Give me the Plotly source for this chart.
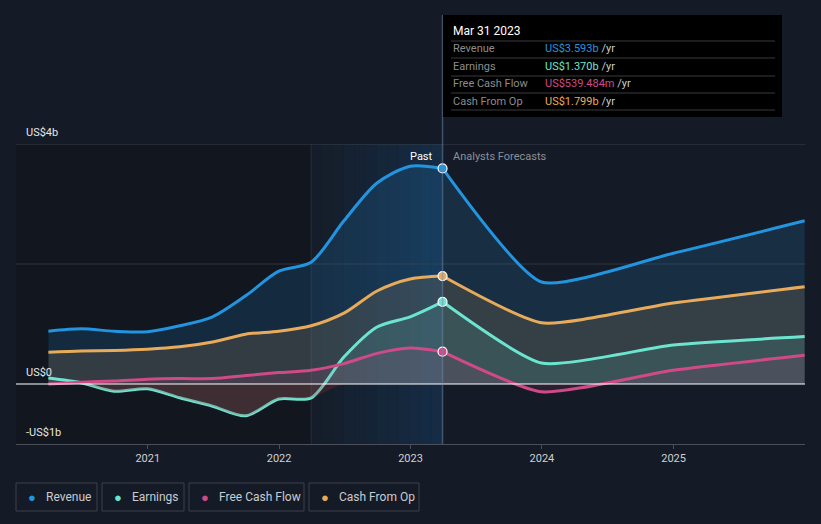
import plotly.graph_objects as go
import numpy as np
import pandas as pd

# ---------------- data ----------------
past_dates = ["2020-03-31", "2020-06-30", "2020-09-30", "2020-12-31",
              "2021-03-31", "2021-06-30", "2021-09-30", "2021-12-31",
              "2022-03-31", "2022-06-30", "2022-09-30", "2022-12-31",
              "2023-03-31"]
fc_dates = ["2023-03-31", "2023-12-31", "2024-12-31", "2025-12-31"]

revenue_past = [0.88, 0.92, 0.88, 0.87, 0.97, 1.12, 1.47, 1.88, 2.03, 2.72, 3.35, 3.63, 3.593]
earnings_past = [0.10, 0.02, -0.12, -0.08, -0.23, -0.37, -0.53, -0.25, -0.23, 0.45, 0.95, 1.12, 1.370]
fcf_past = [0.00, 0.03, 0.05, 0.08, 0.09, 0.09, 0.14, 0.19, 0.23, 0.34, 0.51, 0.60, 0.539]
cfo_past = [0.53, 0.55, 0.56, 0.58, 0.62, 0.70, 0.83, 0.88, 0.97, 1.18, 1.55, 1.75, 1.799]

revenue_fc = [3.593, 1.70, 2.18, 2.72]
earnings_fc = [1.370, 0.35, 0.65, 0.79]
fcf_fc = [0.539, -0.13, 0.23, 0.48]
cfo_fc = [1.799, 1.02, 1.35, 1.62]

series_names = ["Revenue", "Earnings", "Free Cash Flow", "Cash From Op"]
tooltip_values = ["US$3.593b", "US$1.370b", "US$539.484m", "US$1.799b"]
tick_years = ["2021", "2022", "2023", "2024", "2025"]
y_labels = ["US$4b", "US$0", "-US$1b"]
y_label_vals = [4, 0, -1]

# ---------------- style ----------------
colors = {"Revenue": "#2394df", "Earnings": "#6ce5d0",
          "Free Cash Flow": "#d04a88", "Cash From Op": "#e8ab5c"}
fills = {"Revenue": "rgba(35,148,223,0.16)", "Earnings": "rgba(108,229,208,0.12)",
         "Free Cash Flow": "rgba(208,74,136,0.12)", "Cash From Op": "rgba(232,171,92,0.14)"}
BG = "#151b26"
FONT = "Roboto, 'Open Sans', sans-serif"

W, H = 821, 524
L, R, T, B = 16, 16, 144, 80
PW = W - L - R
PH = H - T - B


def px(x):
    return (x - L) / PW


def py(y):
    return (H - B - y) / PH


fig = go.Figure()

data = {
    "Revenue": (revenue_past, revenue_fc),
    "Cash From Op": (cfo_past, cfo_fc),
    "Earnings": (earnings_past, earnings_fc),
    "Free Cash Flow": (fcf_past, fcf_fc),
}

for name in ["Revenue", "Cash From Op", "Earnings", "Free Cash Flow"]:
    p, f = data[name]
    fig.add_trace(go.Scatter(x=past_dates, y=p, mode="lines", fill="tozeroy",
                             fillcolor=fills[name],
                             line=dict(color=colors[name], width=3, shape="spline", smoothing=0.8),
                             hoverinfo="skip", showlegend=False))
    fig.add_trace(go.Scatter(x=fc_dates, y=f, mode="lines", fill="tozeroy",
                             fillcolor=fills[name],
                             line=dict(color=colors[name], width=3, shape="spline", smoothing=0.55),
                             hoverinfo="skip", showlegend=False))

# red tint on negative earnings area
neg = list(np.minimum(np.array(earnings_past), 0.0))
fig.add_trace(go.Scatter(x=past_dates, y=neg, mode="lines", fill="tozeroy",
                         fillcolor="rgba(170,40,50,0.25)",
                         line=dict(color="rgba(0,0,0,0)", width=0, shape="spline", smoothing=0.8),
                         hoverinfo="skip", showlegend=False))

# markers at last actual point
for name, vals in [("Revenue", revenue_past), ("Cash From Op", cfo_past),
                   ("Earnings", earnings_past), ("Free Cash Flow", fcf_past)]:
    fig.add_trace(go.Scatter(x=[past_dates[-1]], y=[vals[-1]], mode="markers",
                             marker=dict(size=9, color=colors[name],
                                         line=dict(color="white", width=1.2)),
                             hoverinfo="skip", showlegend=False))

shapes = []
# darker past region
shapes.append(dict(type="rect", xref="x", yref="paper", x0="2020-01-01", x1="2022-03-31",
                   y0=0, y1=1, fillcolor="rgba(0,0,0,0.18)", line_width=0, layer="below"))
# highlighted last-year region (gradient approximated by slices)
edges = pd.date_range("2022-03-31", "2023-03-31", periods=13)
for i in range(12):
    a = 0.04 + 0.24 * (i / 11)
    shapes.append(dict(type="rect", xref="x", yref="paper",
                       x0=edges[i].strftime("%Y-%m-%d"), x1=edges[i + 1].strftime("%Y-%m-%d"),
                       y0=0, y1=1, fillcolor=f"rgba(25,90,150,{a:.3f})", line_width=0, layer="below"))
shapes.append(dict(type="line", xref="x", yref="paper", x0="2022-03-31", x1="2022-03-31",
                   y0=0, y1=1, line=dict(color="rgba(60,90,120,0.35)", width=1), layer="below"))
# grid lines
for gv, col in [(4, "#3b404b"), (2, "#30353f")]:
    shapes.append(dict(type="line", xref="paper", yref="y", x0=0, x1=1, y0=gv, y1=gv,
                       line=dict(color=col, width=1), layer="below"))
shapes.append(dict(type="line", xref="paper", yref="y", x0=0, x1=1, y0=0, y1=0,
                   line=dict(color="#ffffff", width=1.2), layer="above"))
# tooltip vertical line
shapes.append(dict(type="line", xref="x", yref="paper", x0="2023-03-31", x1="2023-03-31",
                   y0=0, y1=py(15), line=dict(color="rgba(110,140,170,0.5)", width=1.5)))
# tooltip box
shapes.append(dict(type="rect", xref="paper", yref="paper", x0=px(443), x1=px(782),
                   y0=py(117), y1=py(15), fillcolor="#000000", line_width=0))
for sy in [41, 58, 76, 93, 110]:
    shapes.append(dict(type="line", xref="paper", yref="paper", x0=px(451), x1=px(775),
                       y0=py(sy), y1=py(sy), line=dict(color="#3a3a3a", width=1)))

annotations = []
annotations.append(dict(xref="paper", yref="paper", x=px(451), y=py(31), text="Mar 31 2023",
                        showarrow=False, xanchor="left", yanchor="middle",
                        font=dict(color="#ffffff", size=12, family=FONT)))
for i, (nm, val) in enumerate(zip(series_names, tooltip_values)):
    yy = py(48.5 + i * 17.6)
    annotations.append(dict(xref="paper", yref="paper", x=px(451), y=yy, text=nm,
                            showarrow=False, xanchor="left", yanchor="middle",
                            font=dict(color="#8c8c8c", size=11, family=FONT)))
    annotations.append(dict(xref="paper", yref="paper", x=px(543), y=yy,
                            text=f"<span style='color:{colors[nm]}'>{val}</span>"
                                 f"<span style='color:#cccccc'> /yr</span>",
                            showarrow=False, xanchor="left", yanchor="middle",
                            font=dict(size=11, family=FONT)))

# Past / Analysts Forecasts
annotations.append(dict(xref="paper", yref="paper", x=px(435), y=py(156), text="Past",
                        showarrow=False, xanchor="right", yanchor="middle",
                        font=dict(color="#ffffff", size=11, family=FONT)))
annotations.append(dict(xref="paper", yref="paper", x=px(451), y=py(156), text="Analysts Forecasts",
                        showarrow=False, xanchor="left", yanchor="middle",
                        font=dict(color="#8a8f98", size=11, family=FONT)))

# y labels
for lab, v in zip(y_labels, y_label_vals):
    annotations.append(dict(xref="paper", yref="y", x=px(24), y=v, text=lab,
                            showarrow=False, xanchor="left", yanchor="bottom", yshift=3,
                            font=dict(color="#e6e6e6", size=11, family=FONT)))

# legend boxes
legend_boxes = [(16, 97), (102, 184), (189, 304), (309, 419)]
for (x0, x1), nm in zip(legend_boxes, series_names):
    shapes.append(dict(type="rect", xref="paper", yref="paper", x0=px(x0), x1=px(x1),
                       y0=py(511), y1=py(483), line=dict(color="#3c414b", width=1),
                       fillcolor="rgba(0,0,0,0)"))
    annotations.append(dict(xref="paper", yref="paper", x=px(x0 + 16), y=py(497), text="●",
                            showarrow=False, xanchor="center", yanchor="middle",
                            font=dict(color=colors[nm], size=13, family=FONT)))
    annotations.append(dict(xref="paper", yref="paper", x=px(x0 + 28), y=py(497), text=nm,
                            showarrow=False, xanchor="left", yanchor="middle",
                            font=dict(color="#c8cbd0", size=12, family=FONT)))

fig.update_layout(
    width=W, height=H,
    margin=dict(l=L, r=R, t=T, b=B),
    paper_bgcolor=BG, plot_bgcolor=BG,
    shapes=shapes, annotations=annotations,
    showlegend=False,
    font=dict(family=FONT),
    xaxis=dict(range=["2020-01-01", "2026-01-01"], showgrid=False, zeroline=False,
               tickvals=[f"{y}-01-01" for y in tick_years], ticktext=tick_years,
               tickfont=dict(color="#d0d0d0", size=11, family=FONT),
               ticks="outside", ticklen=4, tickcolor="#4a4f5a",
               showline=True, linecolor="#4a4f5a", linewidth=1, fixedrange=True),
    yaxis=dict(range=[-1, 4], showgrid=False, zeroline=False, showticklabels=False,
               fixedrange=True),
)

fig.write_html("out.html", config={"displayModeBar": False},
               post_script="document.body.style.margin='0';"
                           "document.body.style.background='#151b26';")
